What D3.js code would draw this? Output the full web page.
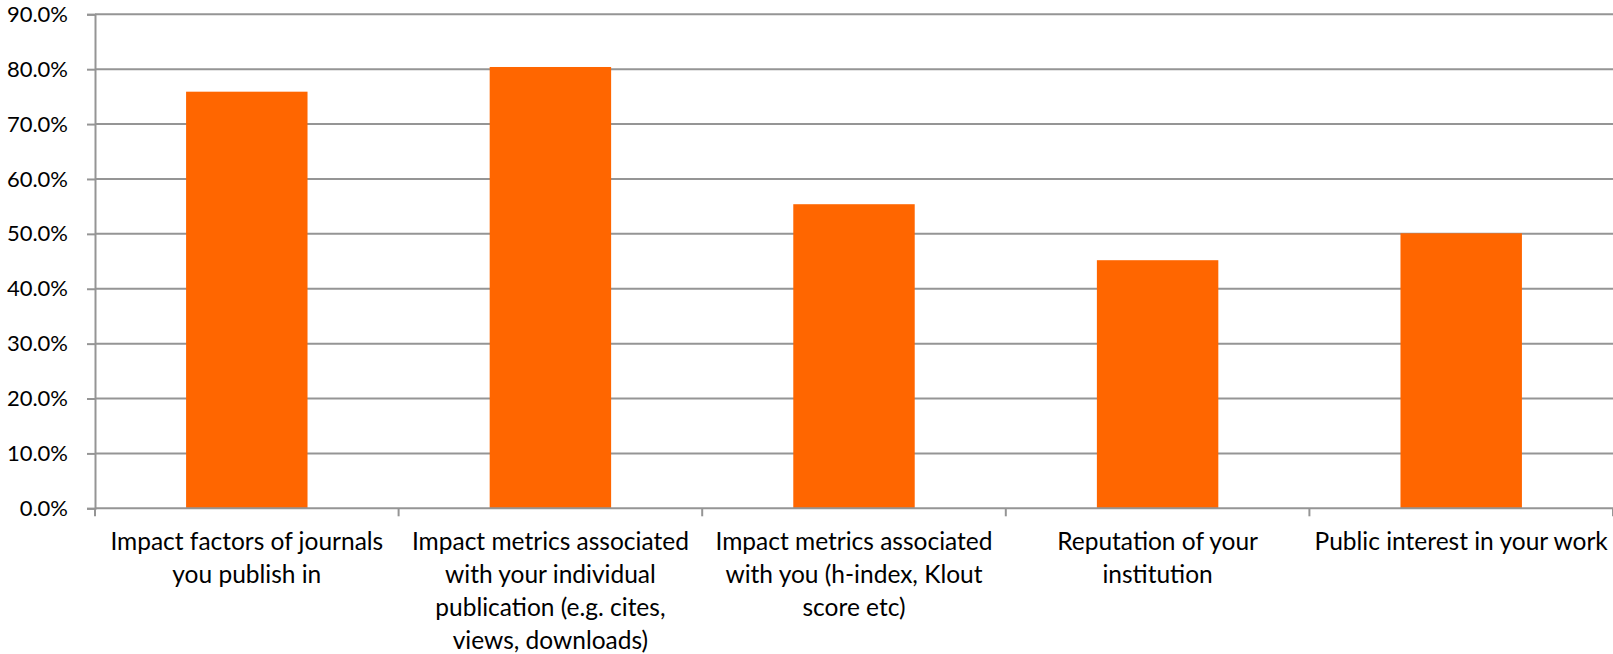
<!DOCTYPE html>
<html>
<head>
<meta charset="utf-8">
<script src="https://cdn.jsdelivr.net/npm/d3@7"></script>
<style>
  html, body { margin: 0; padding: 0; background: #fff; }
  svg text { font-family: Lato, "Open Sans", sans-serif; fill: #000; }
</style>
</head>
<body>
<svg id="chart"></svg>
<script>
// chart data
const categories = [
  "Impact factors of journals you publish in",
  "Impact metrics associated with your individual publication (e.g. cites, views, downloads)",
  "Impact metrics associated with you (h-index, Klout score etc)",
  "Reputation of your institution",
  "Public interest in your work"
];
// how Excel broke the labels
const labelLines = [
  ["Impact factors of journals", "you publish in"],
  ["Impact metrics associated", "with your individual", "publication (e.g. cites,", "views, downloads)"],
  ["Impact metrics associated", "with you (h-index, Klout", "score etc)"],
  ["Reputation of your", "institution"],
  ["Public interest in your work"]
];
const values = [0.759, 0.804, 0.554, 0.452, 0.501];
const yTicks = [0, 0.1, 0.2, 0.3, 0.4, 0.5, 0.6, 0.7, 0.8, 0.9];

const width = 1613, height = 654;
const margin = { top: 14.3, right: 0, bottom: 145.7, left: 95 };
const fontSize = 24.5;
const tickFontSize = 22;
const lineGap = 33;
const gridColor = "#959595";

const svg = d3.select("#chart")
  .attr("width", width)
  .attr("height", height);

const x = d3.scaleBand()
  .domain(categories)
  .range([margin.left, width - margin.right])
  .paddingInner(0.6)
  .paddingOuter(0.3);

const y = d3.scaleLinear()
  .domain([0, 0.9])
  .range([height - margin.bottom, margin.top]);

// gridlines + y labels
const yAxis = svg.append("g")
  .attr("transform", `translate(${margin.left},0)`)
  .call(d3.axisLeft(y)
    .tickValues(yTicks)
    .tickFormat(d3.format(".1%"))
    .tickSize(8)
    .tickPadding(19));

yAxis.select(".domain").attr("stroke", gridColor).attr("stroke-width", 2);
yAxis.selectAll(".tick line").attr("stroke", gridColor).attr("stroke-width", 2);
yAxis.selectAll(".tick text")
  .attr("font-size", tickFontSize + "px")
  .style("font-family", "Lato, sans-serif")
  .attr("fill", "#000");

svg.append("g")
  .selectAll("line")
  .data(yTicks.filter(d => d > 0))
  .join("line")
  .attr("x1", margin.left)
  .attr("x2", width - margin.right)
  .attr("y1", d => y(d))
  .attr("y2", d => y(d))
  .attr("stroke", gridColor)
  .attr("stroke-width", 2);

// bars
svg.append("g")
  .selectAll("rect")
  .data(values)
  .join("rect")
  .attr("x", (d, i) => x(categories[i]))
  .attr("y", d => y(d))
  .attr("width", x.bandwidth())
  .attr("height", d => y(0) - y(d))
  .attr("fill", "#ff6600");

// x axis line and category ticks
const step = x.step();
const boundaries = d3.range(categories.length + 1).map(i => margin.left + i * step);

svg.append("line")
  .attr("x1", margin.left)
  .attr("x2", width - margin.right)
  .attr("y1", y(0))
  .attr("y2", y(0))
  .attr("stroke", gridColor)
  .attr("stroke-width", 2);

svg.append("g")
  .selectAll("line")
  .data(boundaries)
  .join("line")
  .attr("x1", d => d)
  .attr("x2", d => d)
  .attr("y1", y(0))
  .attr("y2", y(0) + 8)
  .attr("stroke", gridColor)
  .attr("stroke-width", 2);

// category labels
const labels = svg.append("g")
  .selectAll("text")
  .data(categories)
  .join("text")
  .attr("text-anchor", "middle")
  .attr("font-size", fontSize + "px")
  .attr("x", d => x(d) + x.bandwidth() / 2)
  .attr("y", y(0) + 42);

labels.each(function(d, i) {
  d3.select(this).selectAll("tspan")
    .data(labelLines[i])
    .join("tspan")
    .attr("x", x(d) + x.bandwidth() / 2)
    .attr("dy", (t, j) => j === 0 ? 0 : lineGap)
    .text(t => t);
});
</script>
</body>
</html>
